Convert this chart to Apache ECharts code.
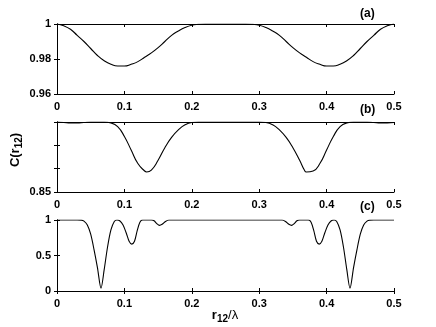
<!DOCTYPE html>
<html>
<head>
<meta charset="utf-8">
<script src="https://cdn.jsdelivr.net/npm/echarts@6/dist/echarts.min.js"></script>
<style>
  html, body { margin: 0; padding: 0; background: #fff; }
  #chart { width: 436px; height: 327px; }
</style>
</head>
<body>
<div id="chart"></div>
<script>
// panel (a)
const xA = [0, 0.01, 0.02, 0.03, 0.04, 0.05, 0.06, 0.07, 0.08, 0.09, 0.10, 0.11, 0.12, 0.13, 0.14, 0.15, 0.16, 0.17, 0.18, 0.19, 0.20, 0.21, 0.22, 0.23, 0.24, 0.25,
  0.26, 0.27, 0.28, 0.29, 0.30, 0.31, 0.32, 0.33, 0.34, 0.35, 0.36, 0.37, 0.38, 0.39, 0.40, 0.41, 0.42, 0.43, 0.44, 0.45, 0.46, 0.47, 0.48, 0.49, 0.50];
const yA = [1.0, 0.9990, 0.9970, 0.9935, 0.9900, 0.9860, 0.9820, 0.9790, 0.9770, 0.9760, 0.9760, 0.9770, 0.9785, 0.9810, 0.9835, 0.9865, 0.9900, 0.9935, 0.9960, 0.9980, 0.9993, 0.9998, 1.0, 1.0, 1.0, 1.0,
  1.0, 1.0, 1.0, 0.9998, 0.9993, 0.9980, 0.9960, 0.9935, 0.9900, 0.9865, 0.9835, 0.9810, 0.9785, 0.9770, 0.9760, 0.9760, 0.9770, 0.9790, 0.9820, 0.9860, 0.9900, 0.9935, 0.9970, 0.9990, 1.0];

// panel (b)
const xB = [0, 0.01, 0.02, 0.03, 0.04, 0.05, 0.06, 0.07, 0.08, 0.09, 0.10, 0.11, 0.12, 0.13, 0.133, 0.14, 0.15, 0.16, 0.17, 0.18, 0.19, 0.20, 0.21, 0.22, 0.23, 0.24, 0.25,
  0.26, 0.27, 0.28, 0.29, 0.30, 0.31, 0.32, 0.33, 0.34, 0.35, 0.36, 0.367, 0.37, 0.38, 0.39, 0.40, 0.41, 0.42, 0.43, 0.44, 0.45, 0.46, 0.47, 0.48, 0.49, 0.50];
const yB = [1.0, 0.9990, 0.9980, 0.9980, 0.9990, 1.0, 1.0, 1.0, 0.9980, 0.9900, 0.9690, 0.9400, 0.9110, 0.8950, 0.8930, 0.8970, 0.9180, 0.9450, 0.9670, 0.9830, 0.9940, 0.9990, 1.0, 1.0, 1.0, 1.0, 1.0,
  1.0, 1.0, 1.0, 1.0, 1.0, 0.9990, 0.9940, 0.9830, 0.9670, 0.9450, 0.9180, 0.8970, 0.8930, 0.8950, 0.9110, 0.9400, 0.9690, 0.9900, 0.9980, 1.0, 1.0, 1.0, 0.9990, 0.9980, 0.9980, 0.9990, 1.0];

// panel (c)
const xC = [0, 0.03, 0.036, 0.04, 0.045, 0.05, 0.055, 0.06, 0.0653, 0.07, 0.075, 0.08, 0.085, 0.089, 0.093, 0.098, 0.103, 0.107, 0.111, 0.115, 0.119, 0.123, 0.127, 0.14, 0.144, 0.148, 0.152, 0.156, 0.161, 0.166, 0.2, 0.25,
  0.3, 0.334, 0.339, 0.344, 0.348, 0.352, 0.356, 0.36, 0.373, 0.377, 0.381, 0.385, 0.389, 0.393, 0.397, 0.402, 0.407, 0.411, 0.415, 0.42, 0.425, 0.43, 0.4347, 0.44, 0.445, 0.45, 0.455, 0.46, 0.464, 0.47, 0.5];
const yC = [1, 1, 0.998, 0.985, 0.93, 0.80, 0.58, 0.33, 0.04, 0.30, 0.62, 0.86, 0.98, 1.0, 0.99, 0.93, 0.81, 0.70, 0.66, 0.70, 0.85, 0.97, 1.0, 1.0, 0.99, 0.95, 0.925, 0.94, 0.98, 1.0, 1.0, 1.0,
  1, 1, 0.98, 0.94, 0.925, 0.95, 0.99, 1, 1, 0.97, 0.85, 0.70, 0.66, 0.70, 0.81, 0.93, 0.99, 1, 0.98, 0.86, 0.62, 0.30, 0.04, 0.33, 0.58, 0.80, 0.93, 0.985, 0.998, 1, 1];

const xTicks = ['0', '0.1', '0.2', '0.3', '0.4', '0.5'];
const panelLabels = ['(a)', '(b)', '(c)'];
const yRanges = [[0.96, 1, 0.02], [0.85, 1, 0.05], [0, 1, 0.5]];
const yShown = [['0.96', '0.98', '1'], ['0.85'], ['0', '0.5', '1']];

const font = 'Liberation Sans, Arial, sans-serif';
const myChart = echarts.init(document.getElementById('chart'));

const grids = [
  { left: 57, width: 337, top: 24, height: 70 },
  { left: 57, width: 337, top: 122, height: 70 },
  { left: 57, width: 337, top: 220, height: 71 }
];

const xAxes = [];
const yAxes = [];
grids.forEach((g, i) => {
  // bottom axis with labels
  xAxes.push({
    type: 'value', gridIndex: i, min: 0, max: 0.5, interval: 0.1,
    axisLine: { show: true, lineStyle: { color: '#000', width: 1 } },
    axisTick: { show: true, inside: true, length: 3, lineStyle: { color: '#000' } },
    axisLabel: {
      color: '#000', fontSize: 11, fontWeight: 'bold', fontFamily: font, margin: 7,
      formatter: (v) => xTicks[Math.round(v * 10)]
    },
    splitLine: { show: false }
  });
  // mirrored top axis
  xAxes.push({
    type: 'value', gridIndex: i, position: 'top', min: 0, max: 0.5, interval: 0.1,
    axisLine: { show: true, lineStyle: { color: '#000', width: 1 } },
    axisTick: { show: true, inside: true, length: 3, lineStyle: { color: '#000' } },
    axisLabel: { show: false },
    splitLine: { show: false }
  });
  const r = yRanges[i];
  yAxes.push({
    type: 'value', gridIndex: i, min: r[0], max: r[1], interval: r[2],
    axisLine: { show: true, lineStyle: { color: '#000', width: 1 } },
    axisTick: { show: true, inside: true, length: 3, lineStyle: { color: '#000' } },
    axisLabel: {
      color: '#000', fontSize: 11, fontWeight: 'bold', fontFamily: font, margin: 6,
      formatter: (v) => {
        const s = String(+v.toFixed(2));
        return yShown[i].indexOf(s) >= 0 ? s : '';
      }
    },
    splitLine: { show: false }
  });
  yAxes.push({
    type: 'value', gridIndex: i, position: 'right', min: r[0], max: r[1], interval: r[2],
    axisLine: { show: true, lineStyle: { color: '#000', width: 1 } },
    axisTick: { show: true, inside: true, length: 3, lineStyle: { color: '#000' } },
    axisLabel: { show: false },
    splitLine: { show: false }
  });
});

const pairs = (xs, ys) => xs.map((x, k) => [x, ys[k]]);
const lineSeries = (data, i, smooth) => ({
  type: 'line', xAxisIndex: i * 2, yAxisIndex: i * 2, data: data,
  showSymbol: false, smooth: smooth, clip: true,
  lineStyle: { color: '#000', width: 1.1 }
});

const subRich = {
  b: { fontSize: 13, fontWeight: 'bold', fontFamily: font, fill: '#000' },
  s: { fontSize: 10, fontWeight: 'bold', fontFamily: font, fill: '#000', padding: [8, 0, 0, 0] },
  l: { fontSize: 13, fontFamily: font, fill: '#000' }
};

const option = {
  backgroundColor: '#fff',
  animation: false,
  grid: grids,
  xAxis: xAxes,
  yAxis: yAxes,
  series: [
    lineSeries(pairs(xA, yA), 0, true),
    lineSeries(pairs(xB, yB), 1, true),
    lineSeries(pairs(xC, yC), 2, 0.3)
  ],
  graphic: [
    { type: 'text', left: 360, top: 8, style: { text: panelLabels[0], font: 'bold 12px ' + font, fill: '#000' } },
    { type: 'text', left: 360, top: 104, style: { text: panelLabels[1], font: 'bold 12px ' + font, fill: '#000' } },
    { type: 'text', left: 360, top: 201, style: { text: panelLabels[2], font: 'bold 12px ' + font, fill: '#000' } },
    {
      type: 'text', x: 15, y: 150, rotation: Math.PI / 2,
      style: { text: '{b|C(r}{s|12}{b|)}', rich: subRich, align: 'center', verticalAlign: 'middle' }
    },
    {
      type: 'text', x: 225, y: 315,
      style: { text: '{b|r}{s|12}{l|/λ}', rich: subRich, align: 'center', verticalAlign: 'middle' }
    }
  ]
};

myChart.setOption(option);
</script>
</body>
</html>
